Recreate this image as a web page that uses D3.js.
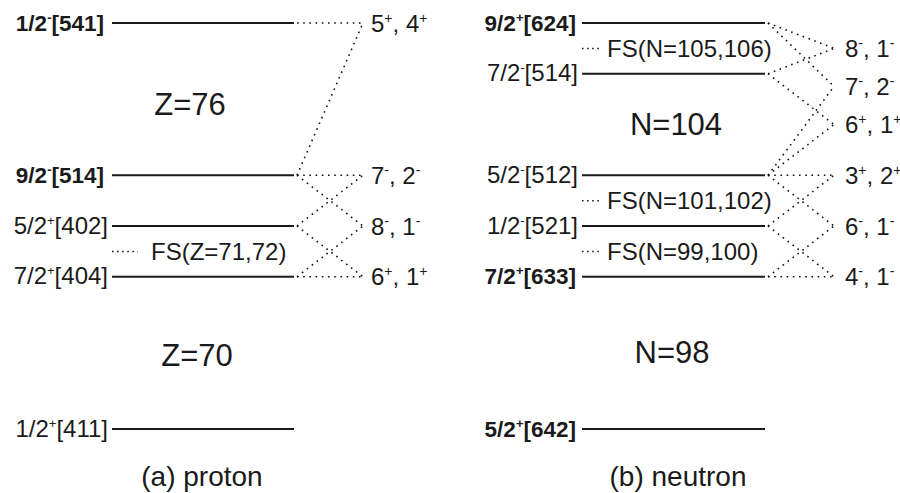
<!DOCTYPE html>
<html>
<head lang="en">
    <meta charset="UTF-8">
    <title></title>
    <style>
        body { margin: 0; background: #fff; }
        text { font-family: "Liberation Sans", Arial, sans-serif; fill: #1a1a1a; }
    </style>
</head>
<body>

<script src="https://cdn.jsdelivr.net/npm/d3@7"></script>
<script>

    // (a) proton orbitals
    var protonOmega   = ['1/2', '9/2', '5/2', '7/2', '1/2'];
    var protonParity  = ['-', '-', '+', '+', '+'];
    var protonNilsson = ['[541]', '[514]', '[402]', '[404]', '[411]'];
    var protonLevel   = [8, 5, 4, 3, 0];

    // proton 2qp configurations and the orbitals they couple
    var protonConf      = ['5+, 4+', '7-, 2-', '8-, 1-', '6+, 1+'];
    var protonConfLevel = [8, 5, 4, 3];
    var protonConfPairs = [[0, 1], [1, 2], [1, 3], [2, 3]];

    var protonFS      = ['FS(Z=71,72)'];
    var protonFSLevel = [3.5];
    var protonGap      = ['Z=76', 'Z=70'];
    var protonGapLevel = [6.4, 1.45];

    // (b) neutron orbitals
    var neutronOmega   = ['9/2', '7/2', '5/2', '1/2', '7/2', '5/2'];
    var neutronParity  = ['+', '-', '-', '-', '+', '+'];
    var neutronNilsson = ['[624]', '[514]', '[512]', '[521]', '[633]', '[642]'];
    var neutronLevel   = [8, 7, 5, 4, 3, 0];

    var neutronConf      = ['8-, 1-', '7-, 2-', '6+, 1+', '3+, 2+', '6-, 1-', '4-, 1-'];
    var neutronConfLevel = [7.5, 6.75, 6, 5, 4, 3];
    var neutronConfPairs = [[0, 1], [0, 2], [1, 2], [2, 3], [2, 4], [3, 4]];

    var neutronFS      = ['FS(N=105,106)', 'FS(N=101,102)', 'FS(N=99,100)'];
    var neutronFSLevel = [7.5, 4.5, 3.5];
    var neutronGap      = ['N=104', 'N=98'];
    var neutronGapLevel = [6.0, 1.5];

    var w = 900,
        h = 493;

    var svg = d3.select('body')
            .append('svg')
            .attr('width', w)
            .attr('height', h);

    var y = d3.scaleLinear().domain([0, 8]).range([429, 23]);

    // text with superscript parity signs
    function richText(sel, parts, supSize) {
        parts.forEach(function(p) {
            if (p.sup) {
                sel.append('tspan').attr('dy', -9).attr('font-size', supSize).text(p.t);
            } else {
                sel.append('tspan').attr('dy', p.after ? 9 : 0).text(p.t);
            }
        });
    }

    function orbitalParts(omega, parity, nil) {
        return [{t: omega}, {t: parity, sup: true}, {t: nil, after: true}];
    }

    function confParts(s) {
        var out = [], prevSup = false;
        s.split(', ').forEach(function(k, i) {
            var m = k.match(/(\d+)([+-])/);
            out.push({t: (i > 0 ? ', ' : '') + m[1], after: prevSup});
            out.push({t: m[2], sup: true});
            prevSup = true;
        });
        return out;
    }

    function panel(o) {
        var g = svg.append('g');
        var idx = d3.range(o.level.length);

        // level lines
        g.selectAll('line.level')
                .data(idx)
                .enter()
                .append('line')
                .attr('x1', o.x0)
                .attr('x2', o.x1)
                .attr('y1', function(i) { return y(o.level[i]); })
                .attr('y2', function(i) { return y(o.level[i]); })
                .attr('stroke', '#1a1a1a')
                .attr('stroke-width', 2);

        // orbital labels
        g.selectAll('text.orb')
                .data(idx)
                .enter()
                .append('text')
                .attr('text-anchor', 'end')
                .attr('x', function(i) { return o.bold.indexOf(i) >= 0 ? o.labBold : o.lab; })
                .attr('y', function(i) { return y(o.level[i]) + 7.5; })
                .attr('font-size', function(i) { return o.bold.indexOf(i) >= 0 ? 22.5 : 24; })
                .attr('font-weight', function(i) { return o.bold.indexOf(i) >= 0 ? 'bold' : 'normal'; })
                .each(function(i) {
                    richText(d3.select(this), orbitalParts(o.omega[i], o.parity[i], o.nilsson[i]), 13);
                });

        // coupling lines (dotted)
        o.pairs.forEach(function(pr, c) {
            pr.forEach(function(li) {
                g.append('line')
                        .attr('x1', o.x1 + 3)
                        .attr('y1', y(o.level[li]))
                        .attr('x2', o.cx)
                        .attr('y2', y(o.confLevel[c]))
                        .attr('stroke', '#111')
                        .attr('stroke-width', 1.6)
                        .attr('stroke-dasharray', '1.6,4.6');
            });
        });

        // configuration labels
        g.selectAll('text.conf')
                .data(o.conf)
                .enter()
                .append('text')
                .attr('x', o.cl)
                .attr('y', function(d, i) { return y(o.confLevel[i]) + 8.5; })
                .attr('font-size', 24)
                .each(function(d) {
                    richText(d3.select(this), confParts(d), 14);
                });

        // Fermi surface markers
        o.fs.forEach(function(d, i) {
            var yy = y(o.fsLevel[i]);
            g.append('line')
                    .attr('x1', o.x0)
                    .attr('x2', o.x0 + o.fsDot)
                    .attr('y1', yy)
                    .attr('y2', yy)
                    .attr('stroke', '#111')
                    .attr('stroke-width', 1.5)
                    .attr('stroke-dasharray', '1.5,3.6');
            g.append('text')
                    .attr('x', o.x0 + o.fsDot + o.fsGap)
                    .attr('y', yy + 8.5)
                    .attr('font-size', 24)
                    .text(d);
        });

        // shell gaps
        g.selectAll('text.gap')
                .data(o.gap)
                .enter()
                .append('text')
                .attr('text-anchor', 'middle')
                .attr('x', function(d, i) { return o.gapX[i]; })
                .attr('y', function(d, i) { return y(o.gapLevel[i]) + 10.5; })
                .attr('font-size', 31)
                .text(function(d) { return d; });

        g.append('text')
                .attr('text-anchor', 'middle')
                .attr('x', o.titleX)
                .attr('y', 486)
                .attr('font-size', 28)
                .text(o.title);
    }

    panel({
        omega: protonOmega, parity: protonParity, nilsson: protonNilsson, level: protonLevel,
        conf: protonConf, confLevel: protonConfLevel, pairs: protonConfPairs,
        fs: protonFS, fsLevel: protonFSLevel, gap: protonGap, gapLevel: protonGapLevel,
        bold: [0, 1],
        x0: 112, x1: 294, lab: 108, labBold: 104, cx: 363, cl: 371, fsDot: 26, fsGap: 13,
        gapX: [190, 197], titleX: 202, title: '(a) proton'
    });

    panel({
        omega: neutronOmega, parity: neutronParity, nilsson: neutronNilsson, level: neutronLevel,
        conf: neutronConf, confLevel: neutronConfLevel, pairs: neutronConfPairs,
        fs: neutronFS, fsLevel: neutronFSLevel, gap: neutronGap, gapLevel: neutronGapLevel,
        bold: [0, 4, 5],
        x0: 582, x1: 765, lab: 578, labBold: 576, cx: 834, cl: 845, fsDot: 18, fsGap: 7,
        gapX: [676, 672], titleX: 678, title: '(b) neutron'
    });

</script>
</body>
</html>
